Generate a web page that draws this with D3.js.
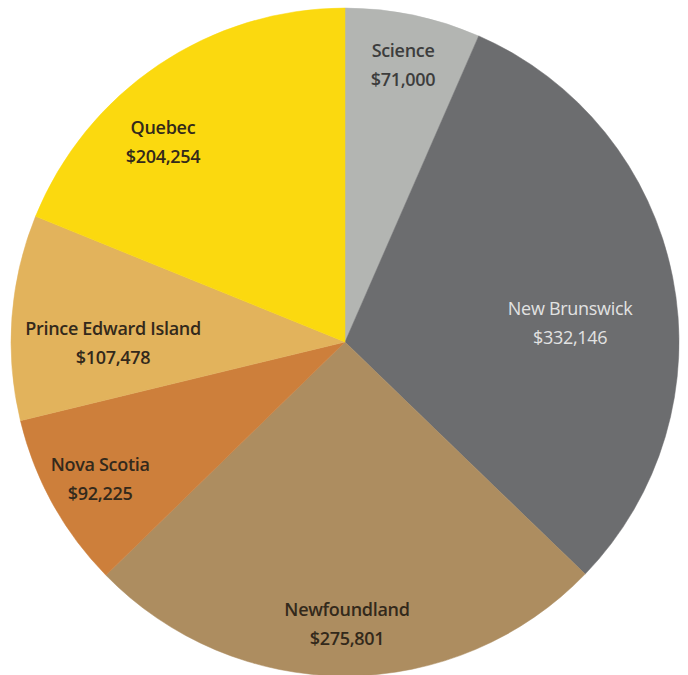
<!DOCTYPE html>
<html><head><meta charset="utf-8">
<script src="https://cdn.jsdelivr.net/npm/d3@7"></script>
<style>body{margin:0;background:#fff}svg{display:block}</style>
</head><body>
<svg id="c" width="688" height="675"></svg>
<script>
const categories = ["Science","New Brunswick","Newfoundland","Nova Scotia","Prince Edward Island","Quebec"];
const values = [71000,332146,275801,92225,107478,204254];
const valueLabels = ["$71,000","$332,146","$275,801","$92,225","$107,478","$204,254"];
const colors = ["#b3b5b2","#6c6d6f","#ad8d60","#cd7f3b","#e2b35c","#fbd90f"];
const textColors = ["#3d3d3d","#e2e2e2","#33291b","#33291b","#33291b","#33291b"];
// label placement: [angle in degrees clockwise from top, distance from centre]
const labelPolar = [[11.8,284],[85,226],[179.6,281],[241,280],[270,232],[317.8,271]];

const svg = d3.select("#c");
const cx = 345, cy = 342, R = 334;
const g = svg.append("g").attr("transform",`translate(${cx},${cy})`);
const data = categories.map((c,i)=>({name:c,value:values[i],i}));
const pie = d3.pie().value(d=>d.value).sort(null);
const arc = d3.arc().innerRadius(0).outerRadius(R);
g.selectAll("path").data(pie(data)).join("path")
  .attr("d",arc).attr("fill",d=>colors[d.data.i]).attr("stroke",d=>colors[d.data.i]).attr("stroke-width",0.5);

const lab = g.selectAll("g.lab").data(data).join("g").attr("class","lab")
  .attr("transform",d=>{const [a,r]=labelPolar[d.i];const t=a*Math.PI/180;return `translate(${r*Math.sin(t)},${-r*Math.cos(t)})`;});
const font = "'Open Sans', 'Noto Sans', sans-serif";
lab.append("text").attr("text-anchor","middle").attr("y",-7)
  .attr("font-family",font).attr("font-size",18).attr("font-weight",d=>d.i===1?400:600).attr("letter-spacing",-0.3)
  .attr("fill",d=>textColors[d.i]).text(d=>d.name);
lab.append("text").attr("text-anchor","middle").attr("y",22)
  .attr("font-family",font).attr("font-size",18).attr("font-weight",d=>d.i===1?400:600).attr("letter-spacing",-0.3)
  .attr("fill",d=>textColors[d.i]).text(d=>valueLabels[d.i]);
</script>
</body></html>
